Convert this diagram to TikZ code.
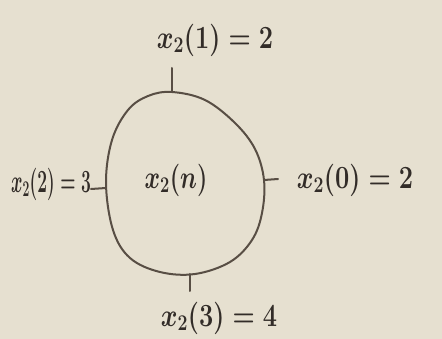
\documentclass[tikz,border=0pt]{standalone}
\begin{document}
\begin{tikzpicture}[x=1pt,y=-1pt,
  ink/.style={draw=inkc,line width=2pt,line cap=round},
  lbl/.style={text=textc,font=\fontsize{24}{28}\selectfont\boldmath,inner sep=0pt}]
\definecolor{inkc}{RGB}{88,78,68}
\definecolor{textc}{RGB}{50,44,40}
\definecolor{paper}{RGB}{230,224,208}
\fill[paper] (0,0) rectangle (442,339);
\useasboundingbox (0,0) rectangle (442,339);
% oval
\draw[ink] plot[smooth cycle,tension=0.6] coordinates {
  (172,92) (205,100) (235,123) (255,149) (264,180) (262,213) (252,240)
  (230,262) (195,274) (160,272) (130,258) (113,230) (106,183) (112,140)
  (128,110) (148,96)};
% tick points
\coordinate (tt1) at (172,68); \coordinate (tt2) at (172,91);
\coordinate (rt1) at (264,180); \coordinate (rt2) at (278,179);
\coordinate (lt1) at (91,189); \coordinate (lt2) at (106,188);
\coordinate (bt1) at (190,274); \coordinate (bt2) at (190,291);
\draw[ink] (tt1) -- (tt2);
\draw[ink] (rt1) -- (rt2);
\draw[ink] (lt1) -- (lt2);
\draw[ink] (bt1) -- (bt2);
% labels
\node[lbl] (top) at (215,40) {\scalebox{1.02}[1.3]{$x_2(1)=2$}};
\node[lbl] (right) at (355,180) {\scalebox{1.02}[1.3]{$x_2(0)=2$}};
\node[lbl] (left) at (51,184) {\scalebox{0.7}[1.3]{$x_2(2)=3$}};
\node[lbl] (bottom) at (219,318) {\scalebox{1.02}[1.3]{$x_2(3)=4$}};
\node[lbl] (center) at (176,180) {\scalebox{0.95}[1.3]{$x_2(n)$}};
\end{tikzpicture}
\end{document}
